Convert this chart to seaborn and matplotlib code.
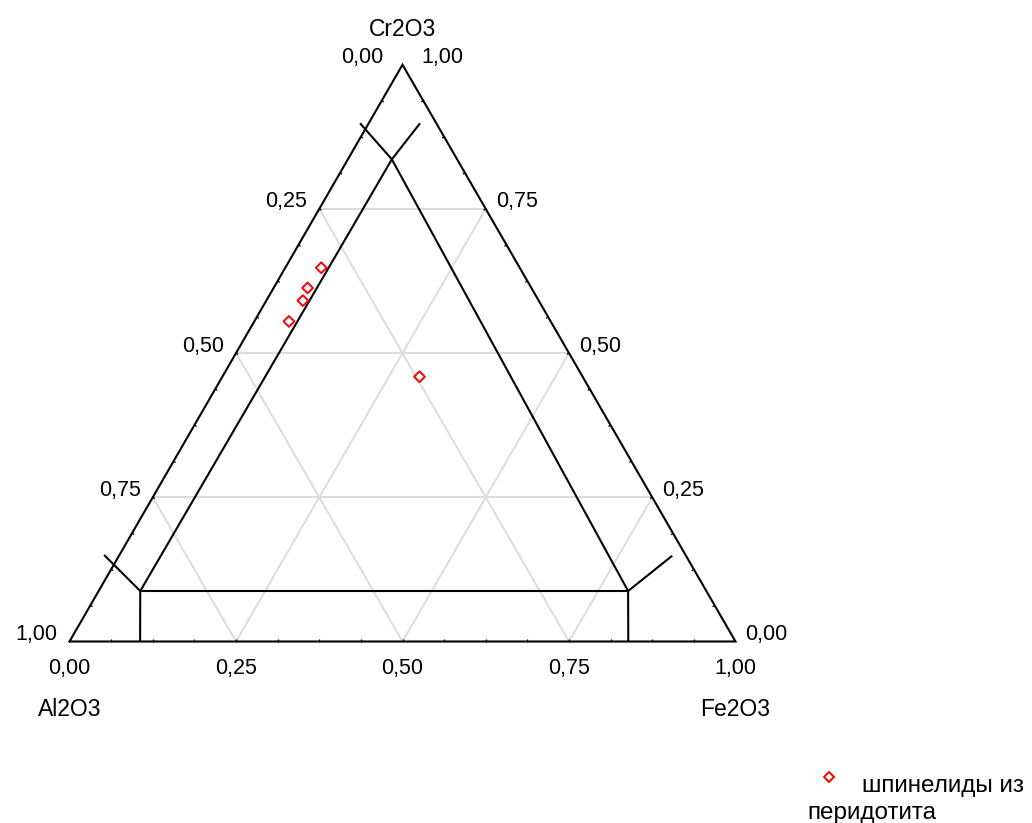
import numpy as np
import pandas as pd
import matplotlib
matplotlib.use("Agg")
import matplotlib.pyplot as plt
from matplotlib.lines import Line2D
import seaborn as sns

# Spinel compositions, as fractions of Al2O3 + Cr2O3 + Fe2O3
al2o3 = [0.298, 0.336, 0.354, 0.393, 0.245]
cr2o3 = [0.648, 0.613, 0.591, 0.555, 0.459]
fe2o3 = [0.054, 0.051, 0.055, 0.052, 0.296]
series_label = "шпинелиды из"
series_label_cont = "перидотита"

# Field outline vertices (Al2O3, Cr2O3, Fe2O3)
field_names = ["A0", "A", "B", "B0", "C", "A_out", "B_out", "C_out_l", "C_out_r"]
field_al = [0.894, 0.850, 0.1175, 0.161, 0.098, 0.873, 0.0205, 0.1145, 0.0244]
field_cr = [0.000, 0.0875, 0.0875, 0.000, 0.836, 0.150, 0.1488, 0.8985, 0.8985]
field_fe = [0.106, 0.0625, 0.795, 0.839, 0.066, -0.023, 0.8307, -0.013, 0.0771]
field_edges = [("A0", "A"), ("A", "B"), ("B", "B0"), ("A", "C"), ("B", "C"),
               ("A", "A_out"), ("B", "B_out"), ("C", "C_out_l"), ("C", "C_out_r")]

tick_values = [0.0, 0.25, 0.5, 0.75, 1.0]
axis_titles = {"top": "Cr2O3", "left": "Al2O3", "right": "Fe2O3"}

H = np.sqrt(3) / 2


def to_xy(al, cr, fe):
    al, cr, fe = np.asarray(al, float), np.asarray(cr, float), np.asarray(fe, float)
    tot = al + cr + fe
    cr, fe = cr / tot, fe / tot
    return fe + cr / 2, cr * H


sns.set_style("white")
plt.rcParams["font.family"] = ["Liberation Sans", "DejaVu Sans"]
plt.rcParams["text.color"] = "black"

W_PX, H_PX = 1032, 823
fig = plt.figure(figsize=(W_PX / 100, H_PX / 100), dpi=100)
ax = fig.add_axes([0, 0, 1, 1])
S = 666.0             # pixels per unit side
x0, y0 = 69.5, 641.5  # pixel position of the Al2O3 corner
ax.set_xlim(-x0 / S, (W_PX - x0) / S)
ax.set_ylim(-(H_PX - y0) / S, y0 / S)
ax.set_axis_off()
px = 1 / S

grid_kw = dict(color="#dcdcdc", lw=1.4, zorder=1, solid_capstyle="butt")
for v in tick_values[1:-1]:
    # constant Cr2O3
    gx, gy = to_xy([1 - v, 0], [v, v], [0, 1 - v])
    ax.plot(gx, gy, **grid_kw)
    # constant Fe2O3
    gx, gy = to_xy([1 - v, 0], [0, 1 - v], [v, v])
    ax.plot(gx, gy, **grid_kw)
    # constant Al2O3
    gx, gy = to_xy([v, v], [0, 1 - v], [1 - v, 0])
    ax.plot(gx, gy, **grid_kw)

# outer triangle
tx, ty = to_xy([1, 0, 0, 1], [0, 0, 1, 0], [0, 1, 0, 0])
ax.plot(tx, ty, color="black", lw=1.5, zorder=3, solid_joinstyle="miter")

# tiny inward ticks along each side
tick_len = 2.5 * px
tick_kw = dict(color="black", lw=0.9, zorder=3, solid_capstyle="butt")
for k in range(1, 16):
    f = k / 16
    ax.plot([f, f], [0, tick_len], **tick_kw)
    lx, ly = f / 2, f * H
    ax.plot([lx, lx + tick_len * H], [ly, ly - tick_len * 0.5], **tick_kw)
    rx, ry = 1 - f / 2, f * H
    ax.plot([rx, rx - tick_len * H], [ry, ry - tick_len * 0.5], **tick_kw)

# field outline
fx, fy = to_xy(field_al, field_cr, field_fe)
idx = {n: i for i, n in enumerate(field_names)}
for a, b in field_edges:
    ax.plot([fx[idx[a]], fx[idx[b]]], [fy[idx[a]], fy[idx[b]]],
            color="black", lw=1.5, zorder=3, solid_capstyle="butt")

# data points
px_, py_ = to_xy(al2o3, cr2o3, fe2o3)
df = pd.DataFrame({"x": px_, "y": py_})
sns.scatterplot(data=df, x="x", y="y", marker="D", s=30, ax=ax, legend=False, zorder=5)
pts = ax.collections[-1]
pts.set_facecolor("none")
pts.set_edgecolor("#ff0000")
pts.set_linewidth(1.4)

fs = 15.5
fs_title = 16.5


def fmt(v):
    return f"{v:.2f}".replace(".", ",")


for v in tick_values:
    # bottom: Fe2O3
    ax.text(v, -27 * px, fmt(v), ha="center", va="center", fontsize=fs)
    # left: Al2O3
    lx, ly = (1 - v) / 2, (1 - v) * H
    off = 19 if v == 0 else 12
    ax.text(lx - off * px, ly + 7 * px, fmt(v), ha="right", va="center", fontsize=fs)
    # right: Cr2O3
    rx, ry = 1 - v / 2, v * H
    off = 19 if v == 1 else 10
    ax.text(rx + off * px, ry + 7 * px, fmt(v), ha="left", va="center", fontsize=fs)

ax.text(0.5, H + 35 * px, axis_titles["top"], ha="center", va="center", fontsize=fs_title)
ax.text(0.0, -68 * px, axis_titles["left"], ha="center", va="center", fontsize=fs_title)
ax.text(1.0, -68 * px, axis_titles["right"], ha="center", va="center", fontsize=fs_title)

# legend
fig.add_artist(Line2D([829 / W_PX], [1 - 777 / H_PX], transform=fig.transFigure,
                      marker="D", markersize=5.4, markerfacecolor="none",
                      markeredgecolor="#ff0000", markeredgewidth=1.4, linestyle="none"))
fig.text(862 / W_PX, 1 - 792 / H_PX, series_label, ha="left", va="baseline", fontsize=17.5)
fig.text(807 / W_PX, 1 - 819 / H_PX, series_label_cont, ha="left", va="baseline", fontsize=17.5)

fig.savefig("out.png", dpi=100)
